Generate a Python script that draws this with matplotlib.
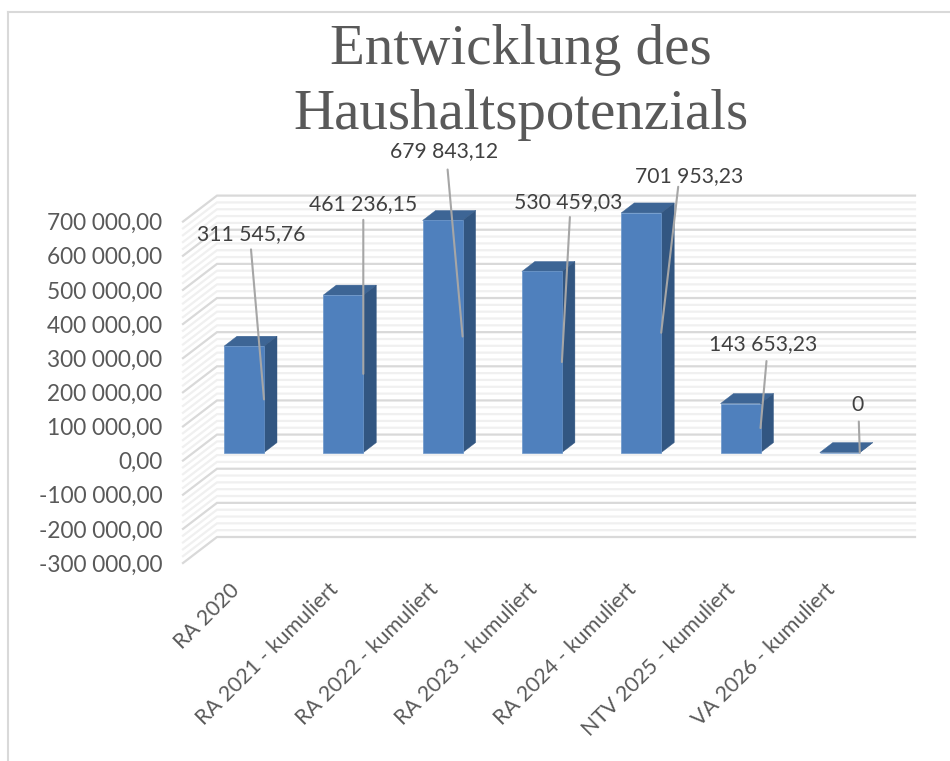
#!/usr/bin/env python3
"""Entwicklung des Haushaltspotenzials: pseudo-3D column chart."""
import matplotlib
matplotlib.use('Agg')
import matplotlib.pyplot as plt
from matplotlib.patches import Polygon
from matplotlib.lines import Line2D
from matplotlib.transforms import offset_copy

categories = ['RA 2020', 'RA 2021 - kumuliert', 'RA 2022 - kumuliert', 'RA 2023 - kumuliert',
              'RA 2024 - kumuliert', 'NTV 2025 - kumuliert', 'VA 2026 - kumuliert']
values = [311545.76, 461236.15, 679843.12, 530459.03, 701953.23, 143653.23, 0]
value_labels = ['311 545,76', '461 236,15', '679 843,12', '530 459,03', '701 953,23', '143 653,23', '0']
y_ticks = [700000, 600000, 500000, 400000, 300000, 200000, 100000, 0, -100000, -200000, -300000]
y_tick_labels = ['700 000,00', '600 000,00', '500 000,00', '400 000,00', '300 000,00', '200 000,00',
                 '100 000,00', '0,00', '-100 000,00', '-200 000,00', '-300 000,00']

W, H = 950, 761
TEXT = '#595959'
FRONT, TOP, SIDE = '#4f80bd', '#3d6595', '#325681'

# ---------- Layout in pixels ----------
PX_PER_UNIT = 34.14 / 100000      # vertical scale
AX_LEFT, AX_RIGHT = 183, 915
Y_BOTTOM = 563                    # front edge of the wall at -300 000
WALL_DX, WALL_DY = 34, 26         # depth of the plot box
BAR_X0, BAR_STEP, BAR_W = 244, 99.3, 40
BAR_DX, BAR_DY = 13, 10           # depth of one bar
BAR_LIFT = 8                      # bar front sits this far behind the front plane

# label centre and leader start, relative to the leader end on the bar (pixels)
label_offsets = [(-13, 165), (0, 170), (-19, 185), (6, 160), (28, 157), (3, 84), (-2, 48)]
leader_offsets = [(-13, 150), (0, 154), (-15, 167), (8, 145), (17, 146), (6, 67), (-1, 31)]

fig = plt.figure(figsize=(W / 100, H / 100), dpi=100)
y_top = Y_BOTTOM - 1000000 * PX_PER_UNIT
ax = fig.add_axes([AX_LEFT / W, 1 - Y_BOTTOM / H, (AX_RIGHT - AX_LEFT) / W, (Y_BOTTOM - y_top) / H])
ax.set_ylim(-300000, 700000)
ax.set_xlim((AX_LEFT - BAR_X0) / BAR_STEP, (AX_RIGHT - BAR_X0) / BAR_STEP)
ax.patch.set_visible(False)
for s in ax.spines.values():
    s.set_visible(False)

px_x = 1 / BAR_STEP
px_y = 1 / PX_PER_UNIT
x0, x1 = ax.get_xlim()

# Grid on back wall and side wall
for v in range(-300000, 700001, 20000):
    major = v % 100000 == 0
    col, lw = ('#d9d9d9', 1.6) if major else ('#f0f0f0', 1.6)
    ax.plot([x0, x0 + WALL_DX * px_x, x1], [v, v + WALL_DY * px_y, v + WALL_DY * px_y],
            color=col, lw=lw, clip_on=False, zorder=2 if major else 1, solid_joinstyle='miter')

# Columns: front face through ax.bar, top and side as polygons
lift = BAR_LIFT * px_y
half = BAR_W * px_x / 2
dx, dy = BAR_DX * px_x, BAR_DY * px_y
xs = list(range(len(values)))
ax.bar(xs, values, width=2 * half, bottom=lift, color=FRONT, edgecolor='#6a96cb', linewidth=0.5,
       zorder=4, clip_on=False)
for x, v in zip(xs, values):
    t = v + lift
    ax.add_patch(Polygon([(x - half, t), (x + half, t), (x + half + dx, t + dy), (x - half + dx, t + dy)],
                         closed=True, fc=TOP, ec=TOP, lw=0.3, zorder=3, clip_on=False))
    ax.add_patch(Polygon([(x + half, lift), (x + half + dx, lift + dy), (x + half + dx, t + dy), (x + half, t)],
                         closed=True, fc=SIDE, ec=SIDE, lw=0.3, zorder=3, clip_on=False))

# Data labels with leader lines, ending halfway up the right edge of each column
for x, v, lab, lo, le in zip(xs, values, value_labels, label_offsets, leader_offsets):
    end = (x + half, lift + v / 2)
    ax.annotate('', xy=end, xytext=le, textcoords='offset pixels', annotation_clip=False,
                arrowprops=dict(arrowstyle='-', color='#a6a6a6', lw=1.5, shrinkA=0, shrinkB=0), zorder=5)
    ax.annotate(lab, xy=end, xytext=lo, textcoords='offset pixels', ha='center', va='center',
                fontsize=15.2, family='Lato', color='#404040', annotation_clip=False, zorder=6)

ax.set_yticks(y_ticks, y_tick_labels, family='Lato', fontsize=16.3, color=TEXT)
ax.set_xticks(xs, categories, family='Lato', fontsize=15.4, color=TEXT, rotation=45, ha='right',
              rotation_mode='anchor')
ax.tick_params(axis='both', length=0)
ax.tick_params(axis='y', pad=15)
ax.tick_params(axis='x', pad=12)
for lab in ax.get_xticklabels():
    lab.set_transform(offset_copy(lab.get_transform(), fig=fig, x=-15, y=0, units='dots'))

# Title
fig.text(521 / W, 1 - 50 / H, 'Entwicklung des', family='Liberation Serif', fontsize=41,
         color=TEXT, ha='center', va='center')
fig.text(521 / W, 1 - 115 / H, 'Haushaltspotenzials', family='Liberation Serif', fontsize=41,
         color=TEXT, ha='center', va='center')

# Chart frame
frame = dict(color='#d9d9d9', lw=1.5, transform=fig.transFigure)
fig.add_artist(Line2D([8 / W, 8 / W], [0, 1 - 12 / H], **frame))
fig.add_artist(Line2D([8 / W, 1], [1 - 12 / H, 1 - 12 / H], **frame))

plt.savefig('out.png', dpi=100)
